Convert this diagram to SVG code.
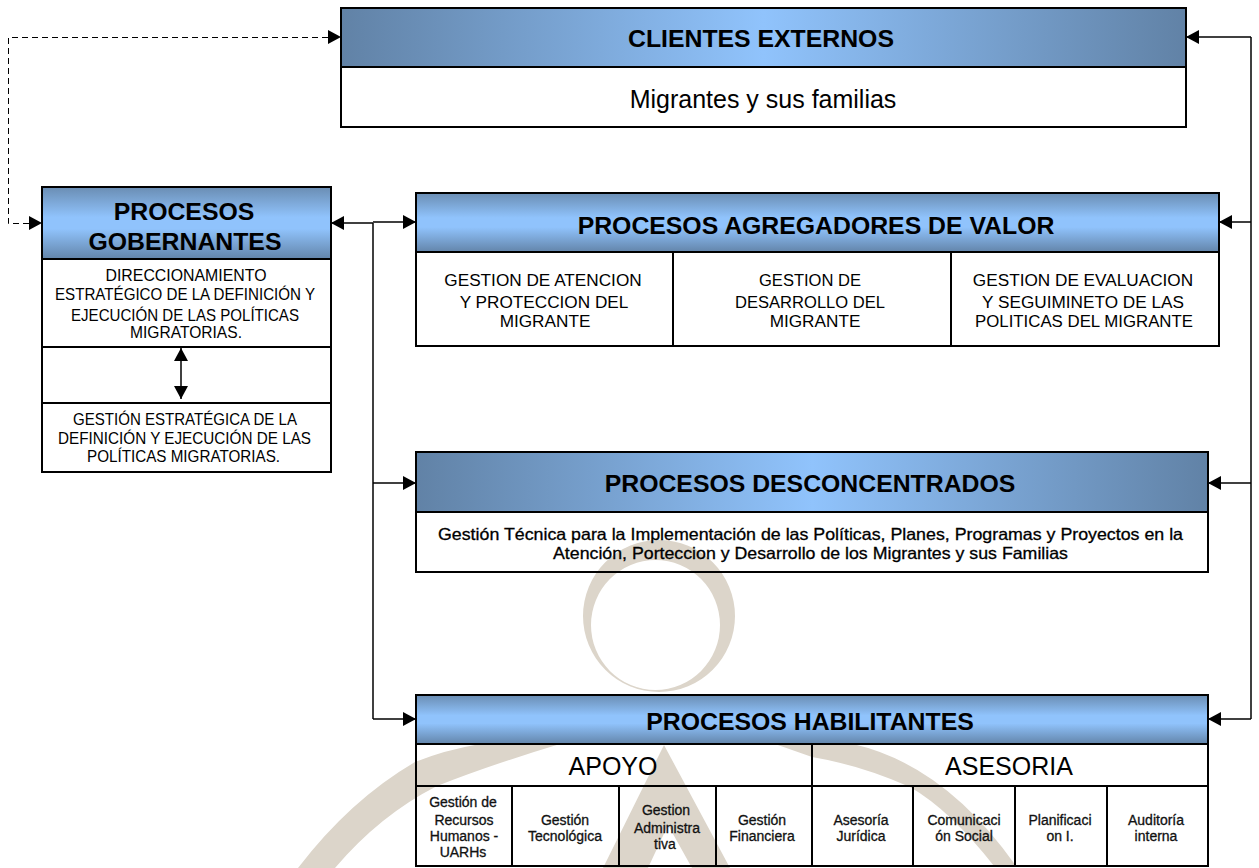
<svg xmlns="http://www.w3.org/2000/svg" width="1259" height="868" viewBox="0 0 1259 868">
<style>
.box{fill:none;stroke:#000;stroke-width:2}
.fillw{fill:#fff}
.div{stroke:#000;stroke-width:2;fill:none}
.con{stroke:#000;stroke-width:1.5;fill:none}
.dash{stroke:#000;stroke-width:1;fill:none;stroke-dasharray:6 4}
text{font-family:"Liberation Sans",Arial,sans-serif;fill:#000;text-anchor:middle}
.t{font-size:24.800px;font-weight:bold}
.s{font-size:17.200px}
.g{font-size:16.500px}
.m{font-size:25px}
.d{font-size:16.500px;stroke:#000;stroke-width:.3}
.c{font-size:14px;stroke:#111;stroke-width:.3;fill:#111}
.wm{fill:#dcd5ca;fill-rule:evenodd}
</style>
<defs>
<linearGradient id="h"><stop offset="0" stop-color="#6182a6"/><stop offset=".5" stop-color="#90c3fc"/><stop offset="1" stop-color="#6182a6"/></linearGradient>
<linearGradient id="v" x2="0" y2="1"><stop offset="0" stop-color="#6a8db3"/><stop offset=".42" stop-color="#90c3fc"/><stop offset=".58" stop-color="#90c3fc"/><stop offset="1" stop-color="#6385aa"/></linearGradient>
<marker id="a" markerUnits="userSpaceOnUse" markerWidth="14" markerHeight="14" refX="13" refY="7" orient="auto-start-reverse"><path d="M0 0L13 7L0 14Z" fill="#000"/></marker>
</defs>
<g id="watermark">
<path class="wm" d="M583 616A76 76 0 1 1 735 616A76 76 0 1 1 583 616ZM591 625A64.500 65 0 1 0 720 625A64.500 65 0 1 0 591 625Z"/>
<path class="wm" d="M298 868Q350 800 415 762Q445 750 480 744L560 744Q490 765 437 786Q380 815 335 868Z"/>
<path class="wm" d="M664 745L603 868L648 868L668 825L692 868L730 868Z"/>
<path class="wm" d="M775 744L853 744Q945 765 1016 866L994 866Q950 810 910 787Q860 765 812 757Z"/>
</g>
<g id="clientes-externos">
<rect x="341" y="8" width="845" height="59" fill="url(#h)"/><rect class="box" x="341" y="8" width="845" height="119"/><path class="div" d="M341 67H1186"/>
<text class="t" x="761" y="47">CLIENTES EXTERNOS</text><text class="m" x="763" y="108">Migrantes y sus familias</text>
</g>
<g id="procesos-gobernantes">
<rect class="fillw" x="42" y="187" width="289" height="285"/><rect x="42" y="187" width="289" height="72" fill="url(#v)"/><rect class="box" x="42" y="187" width="289" height="285"/><path class="div" d="M42 259H331M42 347H331M42 403H331"/>
<text class="t" x="184" y="220">PROCESOS</text><text class="t" x="185" y="250">GOBERNANTES</text>
<text class="g" x="186" y="281" textLength="161" lengthAdjust="spacingAndGlyphs">DIRECCIONAMIENTO</text><text class="g" x="185" y="300" textLength="260" lengthAdjust="spacingAndGlyphs">ESTRATÉGICO DE LA DEFINICIÓN Y</text><text class="g" x="185" y="321" textLength="228" lengthAdjust="spacingAndGlyphs">EJECUCIÓN DE LAS POLÍTICAS</text><text class="g" x="186" y="338" textLength="112" lengthAdjust="spacingAndGlyphs">MIGRATORIAS.</text>
<text class="g" x="185" y="425" textLength="224" lengthAdjust="spacingAndGlyphs">GESTIÓN ESTRATÉGICA DE LA</text><text class="g" x="184.500" y="444" textLength="253" lengthAdjust="spacingAndGlyphs">DEFINICIÓN Y EJECUCIÓN DE LAS</text><text class="g" x="183.500" y="462" textLength="193" lengthAdjust="spacingAndGlyphs">POLÍTICAS MIGRATORIAS.</text>
</g>
<g id="procesos-agregadores">
<rect class="fillw" x="416" y="193" width="803" height="153"/><rect x="416" y="193" width="803" height="59" fill="url(#v)"/><rect class="box" x="416" y="193" width="803" height="153"/><path class="div" d="M416 252H1219M673 252V346M951 252V346"/>
<text class="t" x="816" y="234">PROCESOS AGREGADORES DE VALOR</text>
<text class="s" x="543" y="286">GESTION DE ATENCION</text><text class="s" x="544" y="308">Y PROTECCION DEL</text><text class="s" x="545" y="327">MIGRANTE</text>
<text class="s" x="810" y="286" textLength="102" lengthAdjust="spacingAndGlyphs">GESTION DE</text><text class="s" x="810" y="308" textLength="150" lengthAdjust="spacingAndGlyphs">DESARROLLO DEL</text><text class="s" x="815" y="327">MIGRANTE</text>
<text class="s" x="1083" y="286">GESTION DE EVALUACION</text><text class="s" x="1083" y="308">Y SEGUIMINETO DE LAS</text><text class="s" x="1084" y="327" textLength="218" lengthAdjust="spacingAndGlyphs">POLITICAS DEL MIGRANTE</text>
</g>
<g id="procesos-desconcentrados">
<rect class="fillw" x="416" y="452" width="792" height="60"/><rect x="416" y="452" width="792" height="60" fill="url(#h)"/><rect class="box" x="416" y="452" width="792" height="120"/><path class="div" d="M416 512H1208"/>
<text class="t" x="810" y="492">PROCESOS DESCONCENTRADOS</text>
<text class="d" x="810.500" y="540" textLength="745" lengthAdjust="spacingAndGlyphs">Gestión Técnica para la Implementación de las Políticas, Planes, Programas y Proyectos en la</text>
<text class="d" x="810.500" y="559" textLength="515" lengthAdjust="spacingAndGlyphs">Atención, Porteccion y Desarrollo de los Migrantes y sus Familias</text>
</g>
<g id="procesos-habilitantes">
<rect x="416" y="695" width="792" height="49" fill="url(#v)"/><rect class="box" x="416" y="695" width="792" height="171"/><path class="div" d="M416 744H1208M416 786H1208M812 744V866M512 786V866M619 786V866M716 786V866M913 786V866M1015 786V866M1107 786V866"/>
<text class="t" x="810" y="730">PROCESOS HABILITANTES</text>
<text class="m" x="613" y="775">APOYO</text><text class="m" x="1009" y="775">ASESORIA</text>
<text class="c" x="463" y="807">Gestión de</text><text class="c" x="464" y="825">Recursos</text><text class="c" x="464" y="841">Humanos -</text><text class="c" x="463" y="857">UARHs</text>
<text class="c" x="565" y="825">Gestión</text><text class="c" x="565" y="841">Tecnológica</text>
<text class="c" x="666" y="815">Gestion</text><text class="c" x="667" y="833">Administra</text><text class="c" x="665" y="849">tiva</text>
<text class="c" x="762" y="825">Gestión</text><text class="c" x="762" y="841">Financiera</text>
<text class="c" x="861" y="825">Asesoría</text><text class="c" x="861" y="841">Jurídica</text>
<text class="c" x="964" y="825">Comunicaci</text><text class="c" x="964" y="841">ón Social</text>
<text class="c" x="1060" y="825">Planificaci</text><text class="c" x="1060" y="841">on I.</text>
<text class="c" x="1156" y="825">Auditoría</text><text class="c" x="1156" y="841">interna</text>
</g>
<g id="connectors">
<path class="dash" d="M328 37.500H8.500V223.500H30"/><path d="M328 30L341 37L328 44ZM29 216L42 223L29 230Z" fill="#000"/>
<path class="con" d="M373 719V223"/>
<path class="con" d="M373 223H331" marker-end="url(#a)"/>
<path class="con" d="M373 222H416" marker-end="url(#a)"/>
<path class="con" d="M373 483H416" marker-end="url(#a)"/>
<path class="con" d="M373 719H416" marker-end="url(#a)"/>
<path class="con" d="M1251 719V37"/>
<path class="con" d="M1251 37H1186" marker-end="url(#a)"/>
<path class="con" d="M1251 222H1219" marker-end="url(#a)"/>
<path class="con" d="M1251 483H1208" marker-end="url(#a)"/>
<path class="con" d="M1251 719H1208" marker-end="url(#a)"/>
<path class="con" d="M181 348V399" marker-start="url(#a)" marker-end="url(#a)"/>
</g>
</svg>
